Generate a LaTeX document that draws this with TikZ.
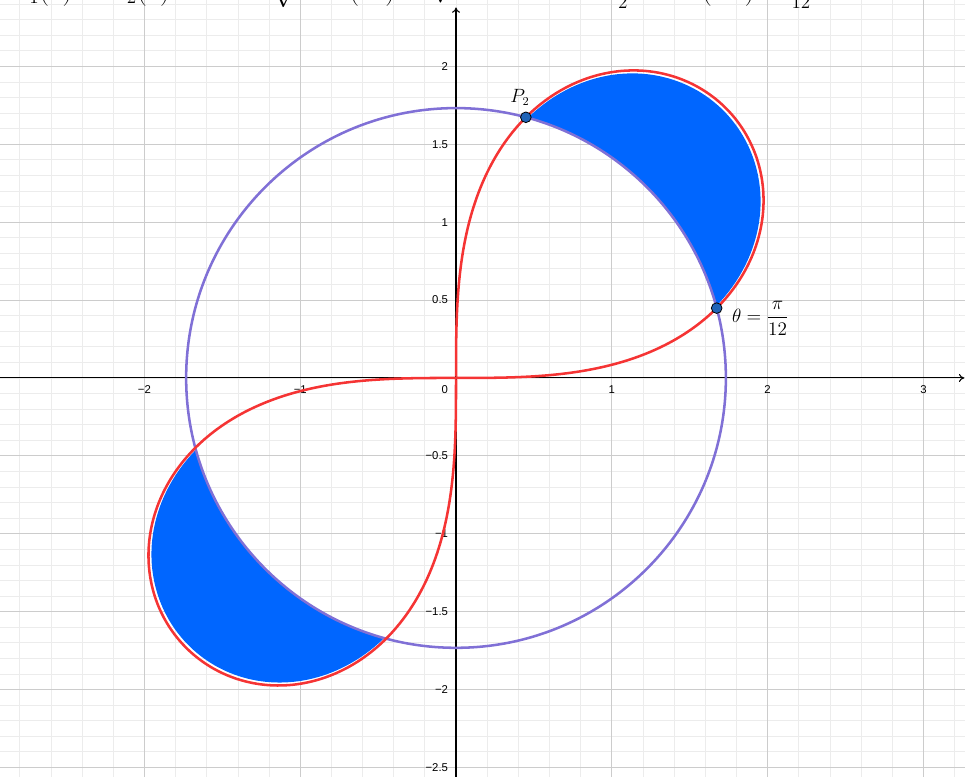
\documentclass[tikz,border=0pt]{standalone}
\usepackage{amsmath}
\usepackage{fontspec}
\newfontfamily\lblfont{Liberation Sans}
\usetikzlibrary{arrows.meta}
\definecolor{gmajor}{RGB}{204,204,204}
\definecolor{gminor}{RGB}{236,236,236}
\definecolor{curvered}{RGB}{245,52,52}
\definecolor{circpurple}{RGB}{128,112,214}
\definecolor{regionblue}{RGB}{0,102,255}
\definecolor{ptblue}{RGB}{32,100,184}
\tikzset{
  minorline/.style={gminor, line width=0.6pt},
  majorline/.style={gmajor, line width=0.75pt},
  axisline/.style={black, line width=0.8pt},
  ticklbl/.style={font=\lblfont\fontsize{8.5}{10}\selectfont, inner sep=0pt},
  lemcurve/.style={curvered, line width=1.9pt, line join=round},
  circcurve/.style={circpurple, line width=1.9pt},
  regionfill/.style={fill=regionblue},
  ptmark/.style={circle, fill=ptblue, draw=black, line width=0.6pt, inner sep=0pt, minimum size=8pt},
  mathlbl/.style={font=\fontsize{13.5}{16}\selectfont, inner sep=0pt}
}
\begin{document}
\begin{tikzpicture}[x=116.85pt,y=116.85pt]
\useasboundingbox (-2.927,-2.561) rectangle (3.267,2.426);
\clip (-2.927,-2.561) rectangle (3.267,2.426);
% minor grid
\foreach \i in {-14,...,16} \draw[minorline] (\i*0.2,-2.6) -- (\i*0.2,2.5);
\foreach \j in {-26,...,24} \draw[minorline] (-3,\j*0.1) -- (3.3,\j*0.1);
% major grid
\foreach \i in {-2,-1,1,2,3} \draw[majorline] (\i,-2.6) -- (\i,2.5);
\foreach \j in {-5,...,4} \draw[majorline] (-3,\j*0.5) -- (3.3,\j*0.5);
% axes
\draw[axisline,-{To[length=4pt,width=6pt]}] (-3,0) -- (3.262,0);
\draw[axisline,-{To[length=4pt,width=6pt]}] (0,-2.6) -- (0,2.378);
% tick labels
\foreach \v/\t in {-2/−2,-1/−1,1/1,2/2,3/3}
  \node[ticklbl, anchor=north] (xl\v) at (\v,-0.045) {\t};
\node[ticklbl, anchor=north east] (orig) at (-0.05,-0.045) {0};
\foreach \v/\t in {2/2,1.5/1.5,1/1,0.5/0.5,-0.5/−0.5,-1/−1,-1.5/−1.5,-2/−2,-2.5/−2.5}
  \node[ticklbl, anchor=east] (yl\v) at (-0.05,\v) {\t};
% shaded regions (with a thin white gap along the lemniscate, as in the reference)
\fill[regionfill] plot[domain=15.55:74.45, samples=90] (\x:{sqrt(6*sin(2*\x))-0.022})
  -- plot[domain=74.45:15.55, samples=60] (\x:1.737) -- cycle;
\fill[regionfill] plot[domain=195.55:254.45, samples=90] (\x:{sqrt(6*sin(2*\x))-0.022})
  -- plot[domain=254.45:195.55, samples=60] (\x:1.737) -- cycle;
% circle
\draw[circcurve] (0,0) circle (1.7321);
% lemniscate r^2 = 6 sin(2 theta)
\draw[lemcurve] plot[domain=0:180, samples=240, variable=\t]
  ({45-45*cos(\t)}:{sqrt(abs(6*sin(90-90*cos(\t))))});
\draw[lemcurve] plot[domain=0:180, samples=240, variable=\t]
  ({225-45*cos(\t)}:{sqrt(abs(6*sin(90-90*cos(\t))))});
% intersection points
\node[ptmark] (P1) at (15:1.7321) {};
\node[ptmark] (P2) at (75:1.7321) {};
\node[mathlbl] (lblP2) at (0.41,1.80) {$P_2$};
\node[mathlbl] (lblth) at (1.953,0.385) {$\theta = \dfrac{\pi}{12}$};
% cut-off formula at the top
\node[font=\fontsize{22}{26}\selectfont, inner sep=0pt, anchor=base west] (topeq) at (-2.865,2.43)
  {$C_1(\theta) = C_2(\theta) \quad\Rightarrow\quad \sqrt{6\sin(2\theta)} = \sqrt{3} \quad\Rightarrow\quad \theta = \tfrac{1}{2}\arcsin(0.5) = \tfrac{\pi}{12}$};
\end{tikzpicture}
\end{document}
